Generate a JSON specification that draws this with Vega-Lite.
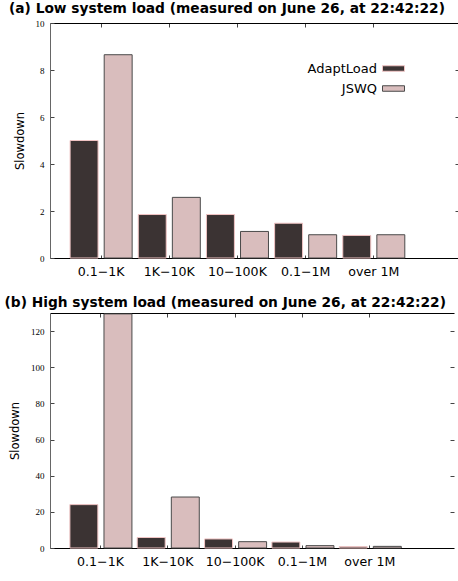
{
  "$schema": "https://vega.github.io/schema/vega-lite/v6.json",
  "padding": {"left": 4, "top": 2, "right": 0, "bottom": 0},
  "background": "white",
  "datasets": {
    "low": [
      {"size": "0.1−1K", "policy": "AdaptLoad", "slowdown": 5.0},
      {"size": "0.1−1K", "policy": "JSWQ", "slowdown": 8.65},
      {"size": "1K−10K", "policy": "AdaptLoad", "slowdown": 1.85},
      {"size": "1K−10K", "policy": "JSWQ", "slowdown": 2.58},
      {"size": "10−100K", "policy": "AdaptLoad", "slowdown": 1.85},
      {"size": "10−100K", "policy": "JSWQ", "slowdown": 1.13},
      {"size": "0.1−1M", "policy": "AdaptLoad", "slowdown": 1.48},
      {"size": "0.1−1M", "policy": "JSWQ", "slowdown": 0.99},
      {"size": "over 1M", "policy": "AdaptLoad", "slowdown": 0.96},
      {"size": "over 1M", "policy": "JSWQ", "slowdown": 0.99}
    ],
    "high": [
      {"size": "0.1−1K", "policy": "AdaptLoad", "slowdown": 24},
      {"size": "0.1−1K", "policy": "JSWQ", "slowdown": 129.5},
      {"size": "1K−10K", "policy": "AdaptLoad", "slowdown": 5.8},
      {"size": "1K−10K", "policy": "JSWQ", "slowdown": 28.2},
      {"size": "10−100K", "policy": "AdaptLoad", "slowdown": 5.0},
      {"size": "10−100K", "policy": "JSWQ", "slowdown": 3.5},
      {"size": "0.1−1M", "policy": "AdaptLoad", "slowdown": 3.3},
      {"size": "0.1−1M", "policy": "JSWQ", "slowdown": 1.3},
      {"size": "over 1M", "policy": "AdaptLoad", "slowdown": 0.75},
      {"size": "over 1M", "policy": "JSWQ", "slowdown": 0.9}
    ]
  },
  "spacing": 17,
  "align": "none",
  "vconcat": [
    {
      "title": {"text": "(a) Low system load (measured on June 26, at 22:42:22)"},
      "width": 409,
      "height": 235,
      "data": {"name": "low"},
      "layer": [
        {
          "mark": {"type": "bar", "strokeWidth": 1},
          "encoding": {
            "x": {"field": "size", "type": "nominal", "sort": ["0.1−1K", "1K−10K", "10−100K", "0.1−1M", "over 1M"],
              "scale": {"paddingInner": 0, "paddingOuter": 0.5, "align": 0.25},
              "axis": {"orient": "bottom", "title": null}},
            "xOffset": {"field": "policy", "type": "nominal", "sort": ["AdaptLoad", "JSWQ"], "scale": {"paddingInner": 0.18, "paddingOuter": 0.09}},
            "y": {"field": "slowdown", "type": "quantitative", "stack": null, "scale": {"domain": [0, 10], "nice": false},
              "axis": {"orient": "left", "title": "Slowdown", "values": [0, 2, 4, 6, 8, 10]}},
            "fill": {"field": "policy", "type": "nominal", "scale": {"domain": ["AdaptLoad", "JSWQ"], "range": ["#3b3333", "#d9bdbd"]},
              "legend": {"legendX": 332, "legendY": 34}},
            "stroke": {"field": "policy", "type": "nominal", "scale": {"domain": ["AdaptLoad", "JSWQ"], "range": ["#f0c4c4", "#4a4a4a"]}}
          }
        },
        {
          "mark": {"type": "bar", "opacity": 0, "clip": true},
          "encoding": {
            "x": {"field": "size", "type": "nominal", "sort": ["0.1−1K", "1K−10K", "10−100K", "0.1−1M", "over 1M"],
              "axis": {"orient": "top", "title": null, "labels": false, "domainColor": "black"}},
            "y": {"field": "slowdown", "type": "quantitative", "stack": null,
              "axis": {"orient": "right", "title": null, "labels": false, "values": [2, 4, 6, 8], "domain": false}}
          }
        }
      ],
      "resolve": {"axis": {"x": "independent", "y": "independent"}}
    },
    {
      "title": {"text": "(b) High system load (measured on June 26, at 22:42:22)"},
      "width": 404,
      "height": 235,
      "data": {"name": "high"},
      "layer": [
        {
          "mark": {"type": "bar", "strokeWidth": 1},
          "encoding": {
            "x": {"field": "size", "type": "nominal", "sort": ["0.1−1K", "1K−10K", "10−100K", "0.1−1M", "over 1M"],
              "scale": {"paddingInner": 0, "paddingOuter": 0.5, "align": 0.25},
              "axis": {"orient": "bottom", "title": null}},
            "xOffset": {"field": "policy", "type": "nominal", "sort": ["AdaptLoad", "JSWQ"], "scale": {"paddingInner": 0.18, "paddingOuter": 0.09}},
            "y": {"field": "slowdown", "type": "quantitative", "stack": null, "scale": {"domain": [0, 130], "nice": false},
              "axis": {"orient": "left", "title": "Slowdown", "values": [0, 20, 40, 60, 80, 100, 120]}},
            "fill": {"field": "policy", "type": "nominal", "scale": {"domain": ["AdaptLoad", "JSWQ"], "range": ["#3b3333", "#d9bdbd"]},
              "legend": {"legendX": 331, "legendY": 38}},
            "stroke": {"field": "policy", "type": "nominal", "scale": {"domain": ["AdaptLoad", "JSWQ"], "range": ["#f0c4c4", "#4a4a4a"]}}
          }
        },
        {
          "mark": {"type": "bar", "opacity": 0, "clip": true},
          "encoding": {
            "x": {"field": "size", "type": "nominal", "sort": ["0.1−1K", "1K−10K", "10−100K", "0.1−1M", "over 1M"],
              "axis": {"orient": "top", "title": null, "labels": false, "domainColor": "black"}},
            "y": {"field": "slowdown", "type": "quantitative", "stack": null,
              "axis": {"orient": "right", "title": null, "labels": false, "values": [20, 40, 60, 80, 100, 120], "domain": false}}
          }
        }
      ],
      "resolve": {"axis": {"x": "independent", "y": "independent"}}
    }
  ],
  "config": {
    "view": {"stroke": null},
    "title": {"anchor": "start", "frame": "bounds", "font": "DejaVu Sans", "fontSize": 13.75, "fontWeight": "bold", "color": "black", "offset": 3, "dx": -5},
    "axis": {"grid": false, "tickSize": -4, "tickColor": "#444", "domainColor": "black", "domainWidth": 1, "tickWidth": 1},
    "axisLeft": {"labelFont": "Liberation Serif", "labelFontSize": 9, "labelColor": "black", "labelPadding": 10, "domainColor": "#666", "titleFont": "DejaVu Sans", "titleFontSize": 11.5, "titleFontWeight": "normal", "titleColor": "black", "titlePadding": 10},
    "axisBottom": {"labelFont": "DejaVu Sans", "labelFontSize": 12.6, "labelColor": "black", "labelAngle": 0, "labelPadding": 10, "tickSize": -3},
    "legend": {"orient": "none", "title": null, "symbolType": "M-1,-0.25H1V0.25H-1Z", "symbolSize": 484, "symbolStrokeWidth": 1, "labelAlign": "right", "labelOffset": -28, "labelFont": "DejaVu Sans", "labelFontSize": 13, "labelColor": "black", "rowPadding": 1, "padding": 0}
  }
}
